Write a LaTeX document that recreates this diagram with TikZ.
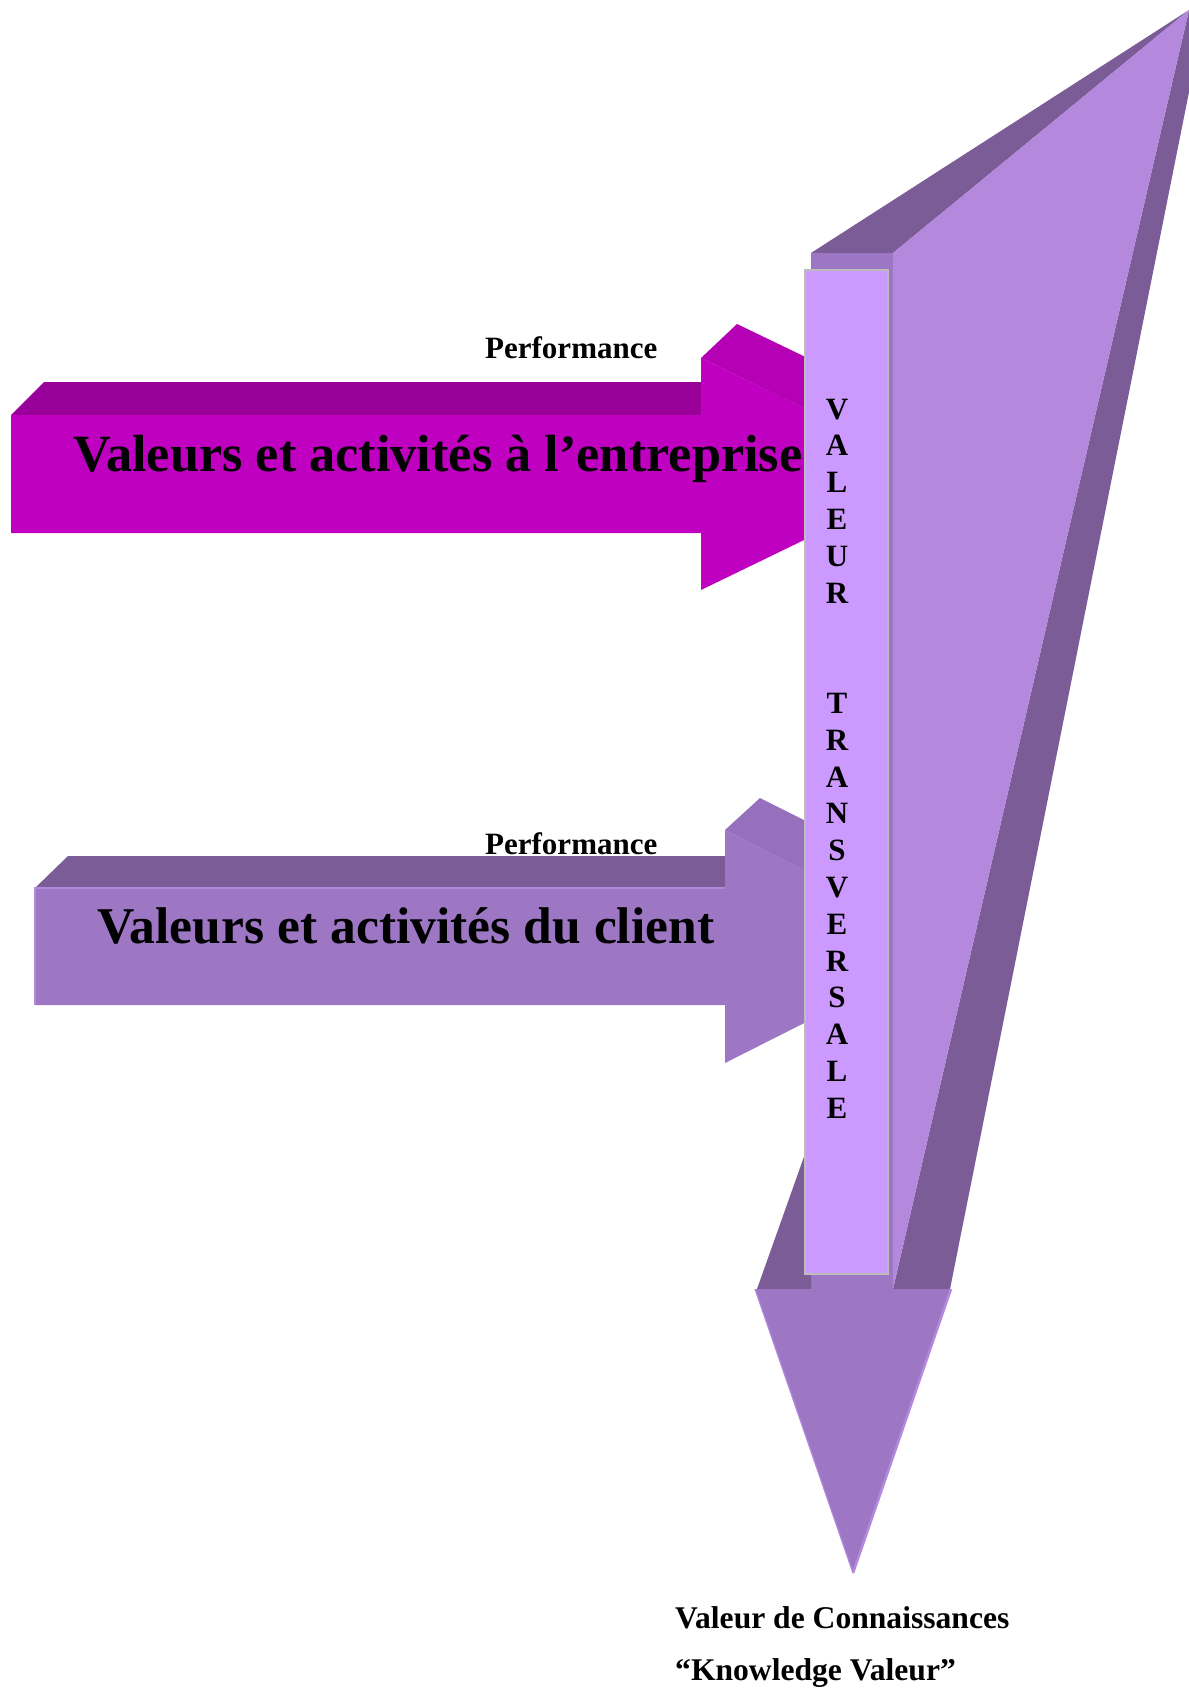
\documentclass[tikz,border=0pt]{standalone}
\usepackage{fontspec}
\setmainfont{Liberation Serif}
\definecolor{mgfront}{HTML}{C000C0}
\definecolor{mgtop}{HTML}{990099}
\definecolor{mghead}{HTML}{B500B5}
\definecolor{pdark}{HTML}{7B5C97}
\definecolor{pmid}{HTML}{9E77C4}
\definecolor{plight}{HTML}{B388DD}
\definecolor{phead}{HTML}{9670BC}
\definecolor{panelc}{HTML}{CC99FF}
\definecolor{panelb}{HTML}{BDBDBD}
\begin{document}
\begin{tikzpicture}[x=1pt,y=-1pt,
  lbl/.style={inner sep=0pt, anchor=base west, font=\bfseries\fontsize{31}{36}\selectfont},
  botlbl/.style={inner sep=0pt, anchor=base west, font=\bfseries\fontsize{31.6}{36}\selectfont},
  letter/.style={inner sep=0pt, anchor=base, font=\bfseries\fontsize{31}{36}\selectfont},
  bigtxt/.style={inner sep=0pt, anchor=base west}]
\useasboundingbox (0,0) rectangle (1189,1690);
\fill[white] (0,0) rectangle (1189,1690);

% ---- upper magenta arrow ----
\fill[mgtop] (11,415) -- (44,382) -- (701,382) -- (701,415) -- cycle;
\fill[mghead] (701,358) -- (737,324) -- (820,364) -- (820,416) -- cycle;
\fill[mgfront] (11,415) -- (701,415) -- (701,358) -- (940,474) -- (701,590)
  -- (701,533) -- (11,533) -- cycle;

% ---- lower purple arrow ----
\fill[pdark] (35,888) -- (68,856) -- (725,856) -- (725,888) -- cycle;
\fill[phead] (725,830) -- (760,798) -- (820,828) -- (820,878) -- cycle;
\fill[pmid] (35,888) -- (725,888) -- (725,830) -- (957,946) -- (725,1063)
  -- (725,1005) -- (35,1005) -- cycle;
\draw[plight, line width=1.2pt] (35,1005) -- (35,888) -- (725,888);

% ---- big downward arrow ----
\fill[pdark] (811,253) -- (1189,10) -- (893,253) -- cycle;
\fill[pdark] (1189,10) -- (1189,92) -- (950,1289) -- (893,1289) -- cycle;
\fill[plight] (893,253) -- (1189,10) -- (893,1289) -- cycle;
\fill[pmid] (811,253) rectangle (893,1289);
\fill[pdark] (757,1289) -- (811,1137) -- (811,1289) -- cycle;
\fill[pmid] (755,1289) -- (951,1289) -- (853,1573) -- cycle;
\draw[plight, line width=2.5pt] (951,1289) -- (853,1573);
\draw[plight, line width=1.2pt] (755,1289) -- (853,1573);

% ---- panel ----
\node[draw=panelb, fill=panelc, line width=1.5pt, minimum width=83pt,
  minimum height=1004pt, anchor=north west, inner sep=0pt] (panel) at (804,269) {};
\foreach \l [count=\i from 0] in {V,A,L,E,U,R}
  \node[letter] (va\i) at (837,{419+36.8*\i}) {\l};
\foreach \l [count=\i from 8] in {T,R,A,N,S,V,E,R,S,A,L,E}
  \node[letter] (tr\i) at (837,{419+36.8*\i}) {\l};

% ---- texts ----
\node[bigtxt, font=\bfseries\fontsize{52.3}{60}\selectfont] (ent) at (73,471)
  {Valeurs et activités à l’entreprise};
\node[bigtxt, font=\bfseries\fontsize{51.6}{58}\selectfont] (cli) at (97,943)
  {Valeurs et activités du client};
\node[lbl] (perf1) at (485,358) {Performance};
\node[lbl] (perf2) at (485,854) {Performance};
\node[botlbl] (kv1) at (675,1628) {Valeur de Connaissances};
\node[botlbl] (kv2) at (675,1680) {“Knowledge Valeur”};
\end{tikzpicture}
\end{document}
